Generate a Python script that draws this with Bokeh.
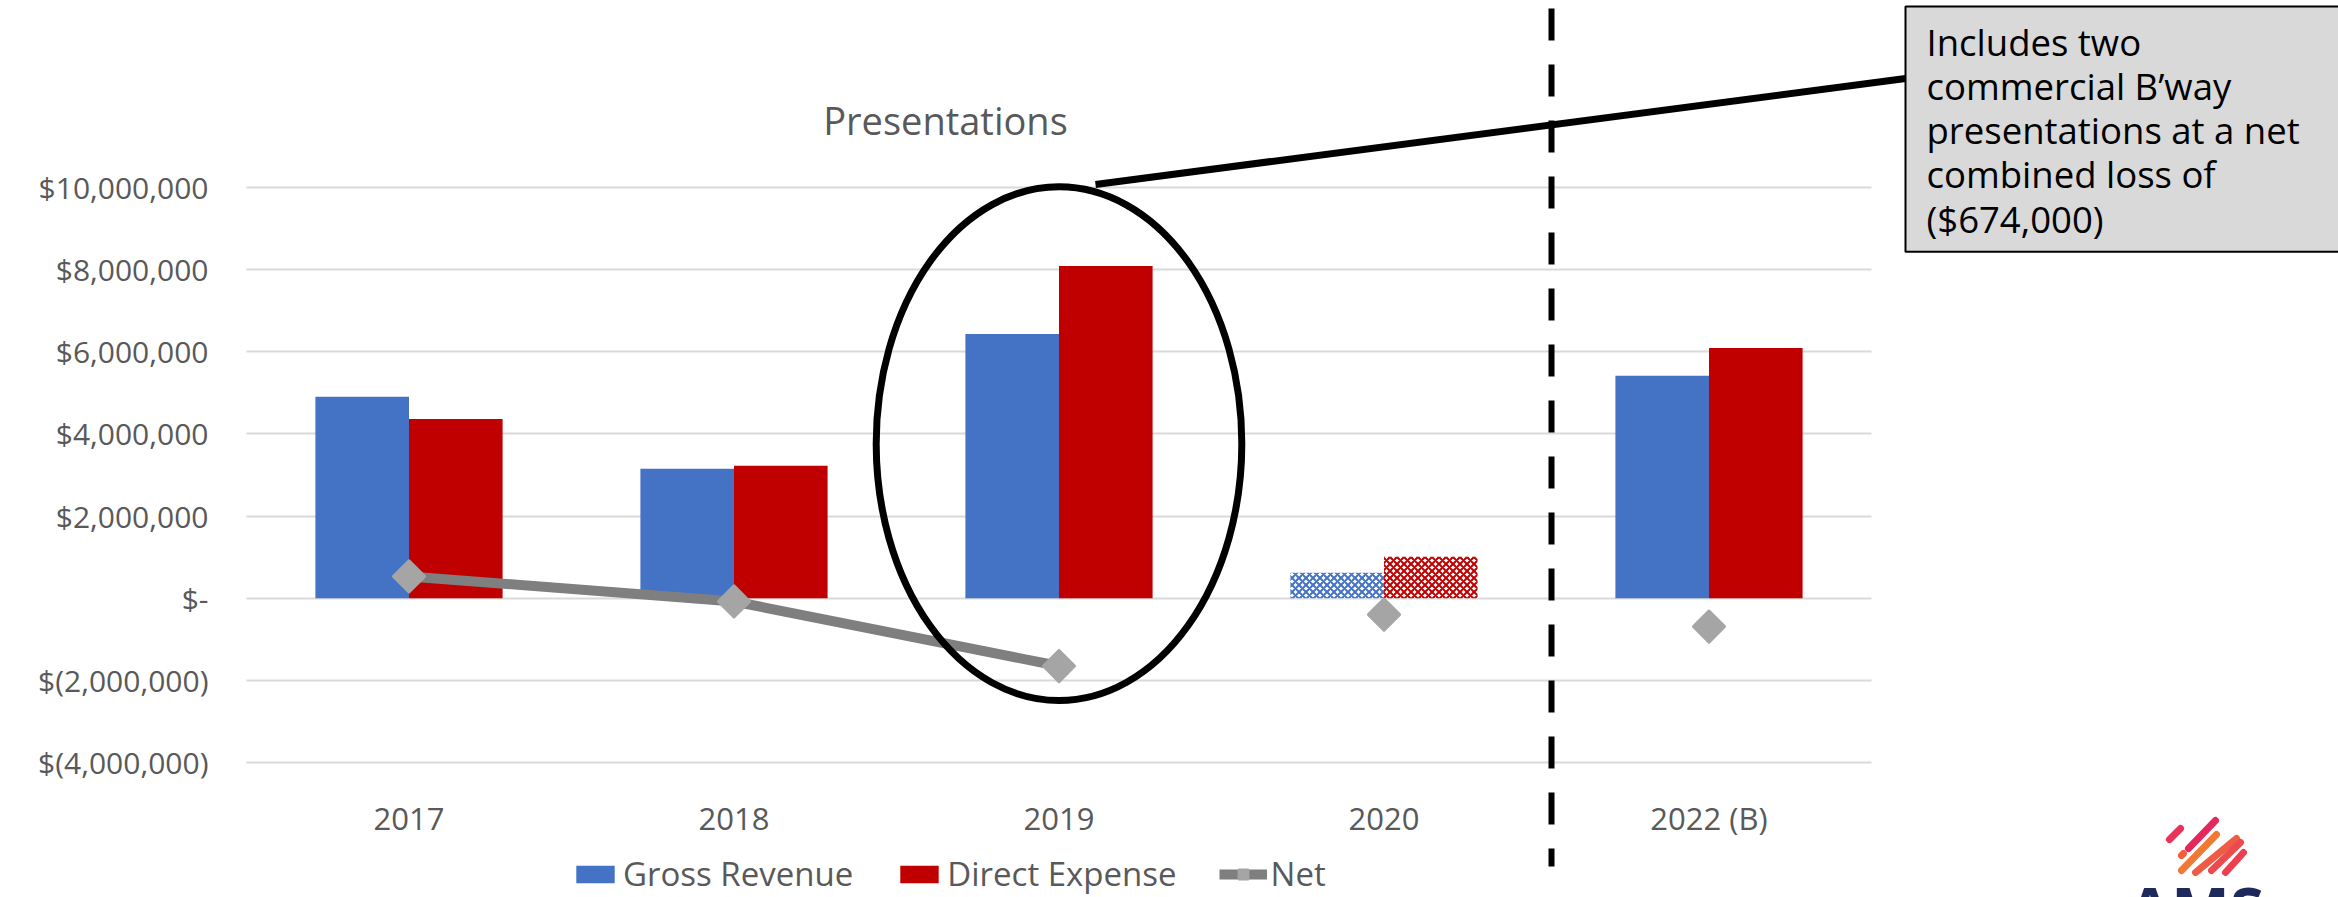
import math
from bokeh.plotting import figure
from bokeh.models import (Range1d, FixedTicker, ColumnDataSource, CDSView, IndexFilter,
                          Legend, LegendItem, Label, Arrow, LinearAxis, Grid)
from bokeh.transform import dodge
from bokeh.embed import file_html
from bokeh.resources import INLINE

# ---------------- data ----------------
years = ["2017", "2018", "2019", "2020", "2022 (B)"]
gross_revenue = [4.90e6, 3.15e6, 6.43e6, 0.62e6, 5.41e6]
direct_expense = [4.36e6, 3.22e6, 8.08e6, 1.01e6, 6.09e6]
net = [0.53e6, -0.08e6, -1.65e6, -0.40e6, -0.69e6]
net_line_years = ["2017", "2018", "2019"]
net_line_values = [0.53e6, -0.08e6, -1.65e6]
hatched_years = ["2020"]
separator_after = "2020"
highlight_year = "2019"
y_ticks = [-4000000, -2000000, 0, 2000000, 4000000, 6000000, 8000000, 10000000]
y_tick_labels = ["$(4,000,000)", "$(2,000,000)", "$-", "$2,000,000", "$4,000,000",
                 "$6,000,000", "$8,000,000", "$10,000,000"]
chart_title = "Presentations"
callout_text = "Includes two\ncommercial B\u2019way\npresentations at a net\ncombined loss of\n($674,000)"
series_names = ["Gross Revenue", "Direct Expense", "Net"]

# ---------------- layout / style ----------------
W, H = 2338, 897
PLOT_LEFT, PLOT_RIGHT = 246, 1871          # pixel extent of the category area
ZERO_PX, PX_PER_M = 597.7, 41.1            # pixel row of $0 and pixels per $1M
CAT_PX = (PLOT_RIGHT - PLOT_LEFT) / len(years)

BLUE = "#4472C4"
RED = "#C00000"
GRID = "#D9D9D9"
TXT = "#595959"
FONT = "Open Sans"


def dx(px):  # canvas pixel column -> x data coordinate
    return (px - PLOT_LEFT) / CAT_PX


def dy(py):  # canvas pixel row -> y data coordinate
    return (ZERO_PX - py) / PX_PER_M * 1e6


p = figure(width=W, height=H, x_range=Range1d(dx(0), dx(W)), y_range=Range1d(dy(H), dy(0)),
           output_backend="svg", toolbar_location=None, x_axis_location=None,
           y_axis_location=None, min_border=0, title=None)
p.outline_line_color = None
p.background_fill_color = "white"
p.border_fill_color = "white"
for g in p.grid:
    g.visible = False

xc = [i + 0.5 for i in range(len(years))]

# axes (drawn at fixed positions inside the canvas)
yaxis = LinearAxis(fixed_location=0, ticker=FixedTicker(ticks=y_ticks),
                   major_label_overrides=dict(zip(y_ticks, y_tick_labels)))
xaxis = LinearAxis(fixed_location=dy(774), ticker=FixedTicker(ticks=xc),
                   major_label_overrides=dict(zip(xc, years)))
for ax in (xaxis, yaxis):
    ax.axis_line_color = None
    ax.major_tick_line_color = None
    ax.minor_tick_line_color = None
    ax.major_tick_out = 0
    ax.major_tick_in = 0
    ax.major_label_text_font = FONT
    ax.major_label_text_color = TXT
yaxis.major_label_text_font_size = "30px"
yaxis.major_label_standoff = 38
xaxis.major_label_text_font_size = "31px"
xaxis.major_label_standoff = 22
p.add_layout(yaxis, "left")
p.add_layout(xaxis, "below")

ygrid = Grid(dimension=1, ticker=FixedTicker(ticks=y_ticks), grid_line_color=GRID,
             grid_line_width=2)
try:
    ygrid.cross_bounds = (0, len(years))
    p.add_layout(ygrid)
except Exception:
    p.segment(x0=0, x1=len(years), y0=y_ticks, y1=y_ticks, line_color=GRID, line_width=2)

# bars
src = ColumnDataSource(dict(x=xc, year=years, gross=gross_revenue, expense=direct_expense, net=net))
solid = CDSView(filter=IndexFilter([i for i, y in enumerate(years) if y not in hatched_years]))
hatched = CDSView(filter=IndexFilter([i for i, y in enumerate(years) if y in hatched_years]))
BW = 0.288

r_g = p.vbar(x=dodge("x", -BW / 2), top="gross", width=BW, source=src,
             view=solid, fill_color=BLUE, line_color=None)
r_e = p.vbar(x=dodge("x", BW / 2), top="expense", width=BW, source=src,
             view=solid, fill_color=RED, line_color=None)
p.vbar(x=dodge("x", -BW / 2), top="gross", width=BW, source=src,
       view=hatched, fill_color="white", line_color=None, hatch_pattern="diagonal_cross",
       hatch_color=BLUE, hatch_scale=7, hatch_weight=2)
p.vbar(x=dodge("x", BW / 2), top="expense", width=BW, source=src,
       view=hatched, fill_color="white", line_color=None, hatch_pattern="diagonal_cross",
       hatch_color=RED, hatch_scale=7, hatch_weight=2)

# net
lsrc = ColumnDataSource(dict(x=[years.index(y) + 0.5 for y in net_line_years], net=net_line_values))
r_l = p.line(x="x", y="net", source=lsrc, line_color="#7F7F7F", line_width=10, line_join="round")
r_m = p.scatter(x="x", y="net", source=src, marker="square", angle=math.pi / 4, size=22,
                fill_color="#A5A5A5", line_color="#A5A5A5", line_width=3, line_join="round")

# highlight ellipse
p.ellipse(x=[years.index(highlight_year) + 0.5], y=[3.76e6], width=1.125, height=12.5e6,
          fill_color=None, line_color="black", line_width=7)

# separator (dashed)
sep_x = years.index(separator_after) + 1 + dx(PLOT_LEFT + 5)
p.add_layout(Arrow(end=None, x_start=sep_x, x_end=sep_x, y_start=dy(8), y_end=dy(866),
                   line_color="black", line_width=6, line_dash="32 24"))

# callout line + box
p.add_layout(Arrow(end=None, x_start=dx(1095), y_start=dy(184), x_end=dx(1905), y_end=dy(78),
                   line_color="black", line_width=7))
p.add_layout(Label(x=dx(1905), y=dy(6), text=callout_text, text_align="left",
                   text_baseline="top", text_font=FONT, text_font_size="36.5px",
                   text_color="black", text_line_height=0.886,
                   background_fill_color="#D9D9D9", background_fill_alpha=1.0,
                   border_line_color="black", border_line_width=2,
                   padding=(21, 80, 10, 8)))

# title
p.add_layout(Label(x=dx(945), y=dy(119), text=chart_title, text_align="center",
                   text_baseline="middle", text_font=FONT, text_font_size="38px",
                   text_color=TXT))

# logo (decorative)
strokes = [((2169, 839), (2180, 828), "#E8345A"), ((2188, 848), (2215, 820), "#E4285E"),
           ((2181, 855), (2183, 853), "#F0603E"), ((2181, 870), (2216, 834), "#F07A35"),
           ((2195, 872), (2236, 838), "#EE5C45"), ((2211, 870), (2240, 842), "#EC4A4E"),
           ((2225, 872), (2243, 852), "#EC4051")]
for (x0, y0), (x1, y1), c in strokes:
    p.add_layout(Arrow(end=None, x_start=dx(x0), y_start=dy(y0), x_end=dx(x1), y_end=dy(y1),
                       line_color=c, line_width=7, line_cap="round"))
p.add_layout(Label(x=dx(2128), y=dy(866), text="AMS", text_align="left", text_baseline="top",
                   text_font=FONT, text_font_size="62px", text_font_style="bold",
                   text_color="#1F2A5C"))

# legend
legend = Legend(items=[LegendItem(label=series_names[0], renderers=[r_g]),
                       LegendItem(label=series_names[1], renderers=[r_e]),
                       LegendItem(label=series_names[2], renderers=[r_l, r_m])],
                orientation="horizontal", location=(571, 1),
                label_text_font=FONT, label_text_font_size="33px", label_text_color=TXT,
                glyph_width=48, glyph_height=22, spacing=42, label_standoff=4,
                padding=0, margin=0, border_line_color=None, background_fill_alpha=0)
p.add_layout(legend)

open("out.html", "w").write(file_html(p, INLINE))
